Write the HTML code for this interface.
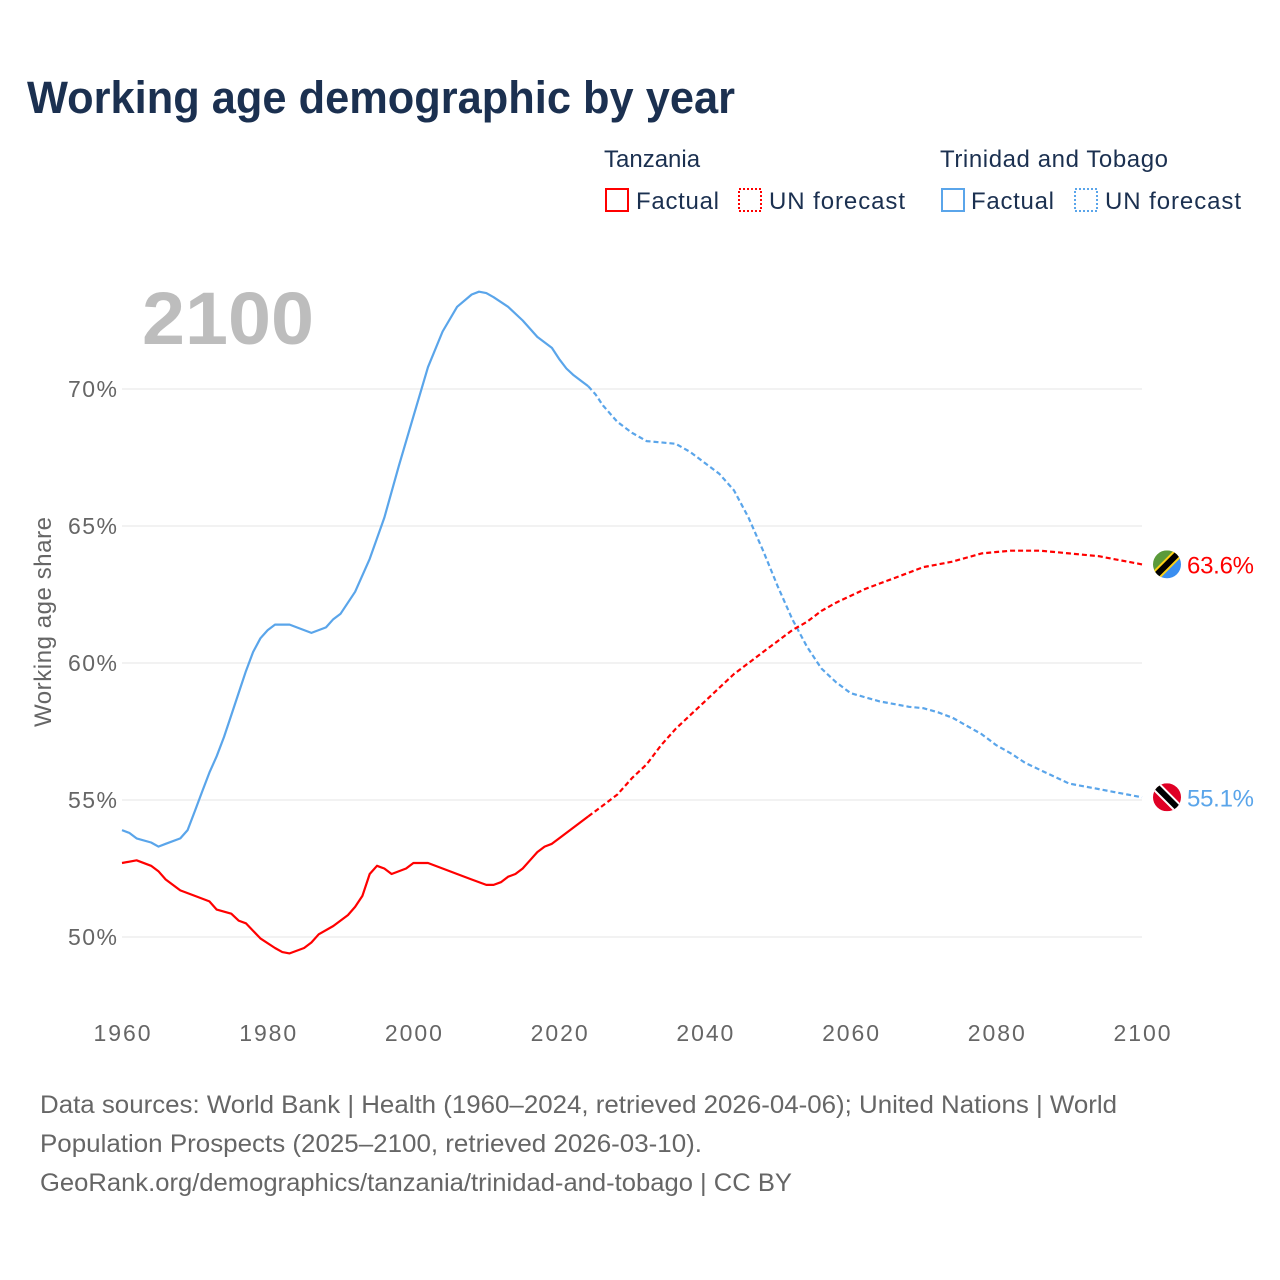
<!DOCTYPE html>
<html><head><meta charset="utf-8">
<style>
body{margin:0;background:#fff;font-family:"Liberation Sans",sans-serif;}
#wrap{position:relative;width:1280px;height:1280px;overflow:hidden;}
</style></head>
<body>
<div id="wrap">
<svg id="chart" width="1280" height="1280" xmlns="http://www.w3.org/2000/svg">
<text x="27" y="113" font-size="45" font-weight="bold" fill="#1b3050" textLength="708" lengthAdjust="spacingAndGlyphs">Working age demographic by year</text>
<g font-size="24" fill="#1b3050">
 <text x="604" y="167">Tanzania</text>
 <rect x="606" y="189" width="22" height="22" fill="none" stroke="#f00" stroke-width="2"/>
 <text x="636" y="209" textLength="83">Factual</text>
 <rect x="739" y="189" width="22" height="22" fill="none" stroke="#f00" stroke-width="2" stroke-dasharray="2,2"/>
 <text x="769" y="209" textLength="136">UN forecast</text>
 <text x="940" y="167" textLength="228">Trinidad and Tobago</text>
 <rect x="942" y="189" width="22" height="22" fill="none" stroke="#5aa5ea" stroke-width="2"/>
 <text x="971" y="209" textLength="83">Factual</text>
 <rect x="1075" y="189" width="22" height="22" fill="none" stroke="#5aa5ea" stroke-width="2" stroke-dasharray="2,2"/>
 <text x="1105" y="209" textLength="136">UN forecast</text>
</g>
<text x="228" y="344" font-size="74" font-weight="bold" fill="#bdbdbd" text-anchor="middle" textLength="172" lengthAdjust="spacingAndGlyphs">2100</text>
<text transform="translate(51,622) rotate(-90)" font-size="24" fill="#666" text-anchor="middle" textLength="210">Working age share</text>
<g id="grid"></g><g id="series"></g>
<g font-size="25" fill="#666">
 <text x="40" y="1113" textLength="1077" lengthAdjust="spacingAndGlyphs">Data sources: World Bank | Health (1960–2024, retrieved 2026-04-06); United Nations | World</text>
 <text x="40" y="1152" textLength="662" lengthAdjust="spacingAndGlyphs">Population Prospects (2025–2100, retrieved 2026-03-10).</text>
 <text x="40" y="1191" textLength="752" lengthAdjust="spacingAndGlyphs">GeoRank.org/demographics/tanzania/trinidad-and-tobago | CC BY</text>
</g>
</svg>
</div>
<script>
const yTicks=[50,55,60,65,70];
const xTicks=[1960,1980,2000,2020,2040,2060,2080,2100];
const tzFactYears=[1960,1962,1964,1965,1966,1968,1970,1972,1973,1975,1976,1977,1979,1981,1982,1983,1985,1986,1987,1989,1991,1992,1993,1994,1995,1996,1997,1999,2000,2002,2004,2006,2008,2010,2011,2012,2013,2014,2015,2016,2017,2018,2019,2020,2022,2024];
const tzFactVals=[52.7,52.8,52.6,52.4,52.1,51.7,51.5,51.3,51.0,50.85,50.6,50.5,49.95,49.6,49.45,49.4,49.6,49.8,50.1,50.4,50.8,51.1,51.5,52.3,52.6,52.5,52.3,52.5,52.7,52.7,52.5,52.3,52.1,51.9,51.9,52.0,52.2,52.3,52.5,52.8,53.1,53.3,53.4,53.6,54.0,54.4];
const tzFcYears=[2024,2026,2028,2030,2032,2034,2036,2038,2040,2042,2044,2046,2048,2050,2052,2054,2056,2058,2060,2062,2064,2066,2068,2070,2072,2074,2076,2078,2080,2082,2084,2086,2088,2090,2092,2094,2096,2098,2100];
const tzFcVals=[54.4,54.8,55.2,55.8,56.3,57.0,57.6,58.1,58.6,59.1,59.6,60.0,60.4,60.8,61.2,61.5,61.9,62.2,62.45,62.7,62.9,63.1,63.3,63.5,63.6,63.7,63.85,64.0,64.05,64.1,64.1,64.1,64.05,64.0,63.95,63.9,63.8,63.7,63.6];
const ttFactYears=[1960,1961,1962,1964,1965,1966,1968,1969,1970,1971,1972,1973,1974,1975,1976,1977,1978,1979,1980,1981,1983,1985,1986,1988,1989,1990,1992,1994,1996,1998,2000,2002,2004,2006,2008,2009,2010,2011,2013,2015,2017,2018,2019,2020,2021,2022,2024];
const ttFactVals=[53.9,53.8,53.6,53.45,53.3,53.4,53.6,53.9,54.6,55.3,56.0,56.6,57.3,58.1,58.9,59.7,60.4,60.9,61.2,61.4,61.4,61.2,61.1,61.3,61.6,61.8,62.6,63.8,65.3,67.2,69.0,70.8,72.1,73.0,73.45,73.55,73.5,73.35,73.0,72.5,71.9,71.7,71.5,71.1,70.75,70.5,70.1];
const ttFcYears=[2024,2025,2026,2028,2030,2032,2034,2036,2038,2040,2042,2044,2046,2048,2050,2052,2054,2056,2058,2060,2062,2064,2066,2068,2070,2072,2074,2076,2078,2080,2082,2084,2086,2088,2090,2092,2094,2096,2098,2100];
const ttFcVals=[70.1,69.8,69.4,68.8,68.4,68.1,68.05,68.0,67.7,67.3,66.9,66.3,65.3,64.1,62.8,61.6,60.6,59.8,59.3,58.9,58.75,58.6,58.5,58.4,58.35,58.2,58.0,57.7,57.4,57.0,56.7,56.35,56.1,55.85,55.6,55.5,55.4,55.3,55.2,55.1];
const NS="http://www.w3.org/2000/svg";
const X=y=>122+(y-1960)*(1020/140);
const Y=v=>937-(v-50)*27.4;
function mk(tag,attrs,parent){const e=document.createElementNS(NS,tag);for(const k in attrs)e.setAttribute(k,attrs[k]);parent.appendChild(e);return e;}
const grid=document.getElementById('grid'),ser=document.getElementById('series');
yTicks.forEach(t=>{
 const l=mk('line',{x1:122,x2:1142,y1:Y(t),y2:Y(t),stroke:'#e6e6e6','stroke-width':1},grid);
 
 
 const tx=mk('text',{x:117,y:Y(t)+8,'text-anchor':'end','font-size':23,fill:'#666',textLength:49},grid);
 tx.textContent=t+'%';
 
 
});
xTicks.forEach(t=>{
 const tx=mk('text',{x:X(t),y:1041,'text-anchor':'middle','font-size':23,fill:'#666',textLength:57},grid);
 tx.textContent=t;
 
 
});
function line(xs,vs,color,dash,name){
 const d=xs.map((x,i)=>(i?'L':'M')+X(x).toFixed(1)+','+Y(vs[i]).toFixed(1)).join('');
 const p=mk('path',{d:d,fill:'none',stroke:color,'stroke-width':2.2,'stroke-linejoin':'round'},ser);
 if(dash)p.setAttribute('stroke-dasharray','5,3');
 
 
}
line(ttFactYears,ttFactVals,'#5aa5ea',false,'trinidad-factual-line');
line(ttFcYears,ttFcVals,'#5aa5ea',true,'trinidad-forecast-line');
line(tzFactYears,tzFactVals,'#f00',false,'tanzania-factual-line');
line(tzFcYears,tzFcVals,'#f00',true,'tanzania-forecast-line');
function endLabel(vals,color,name,flag){
 const v=vals[vals.length-1],cy=Y(v),cx=1167;
 const g=mk('g',{},ser);
 
 
 const cp=mk('clipPath',{id:'cp'+name},g);mk('circle',{cx:cx,cy:cy,r:14},cp);
 const gg=mk('g',{'clip-path':'url(#cp'+name+')'},g);
 if(flag==='tz'){
  mk('polygon',{points:`${cx-14},${cy-14} ${cx+14},${cy-14} ${cx-14},${cy+14}`,fill:'#5a9a3a'},gg);
  mk('polygon',{points:`${cx+14},${cy+14} ${cx+14},${cy-14} ${cx-14},${cy+14}`,fill:'#3a8ef0'},gg);
  mk('line',{x1:cx-14,y1:cy+14,x2:cx+14,y2:cy-14,stroke:'#fcd116','stroke-width':10},gg);
  mk('line',{x1:cx-14,y1:cy+14,x2:cx+14,y2:cy-14,stroke:'#000','stroke-width':6},gg);
 } else {
  mk('rect',{x:cx-14,y:cy-14,width:28,height:28,fill:'#e00025'},gg);
  mk('line',{x1:cx-14,y1:cy-14,x2:cx+14,y2:cy+14,stroke:'#fff','stroke-width':10},gg);
  mk('line',{x1:cx-14,y1:cy-14,x2:cx+14,y2:cy+14,stroke:'#000','stroke-width':6},gg);
 }
 const t=mk('text',{x:1187,y:cy+9,'font-size':24,fill:color,textLength:67},ser);
 t.textContent=v.toFixed(1)+'%';
 
 
}
endLabel(tzFcVals,'#f00','tanzania','tz');
endLabel(ttFcVals,'#5aa5ea','trinidad','tt');
</script>
</body></html>
